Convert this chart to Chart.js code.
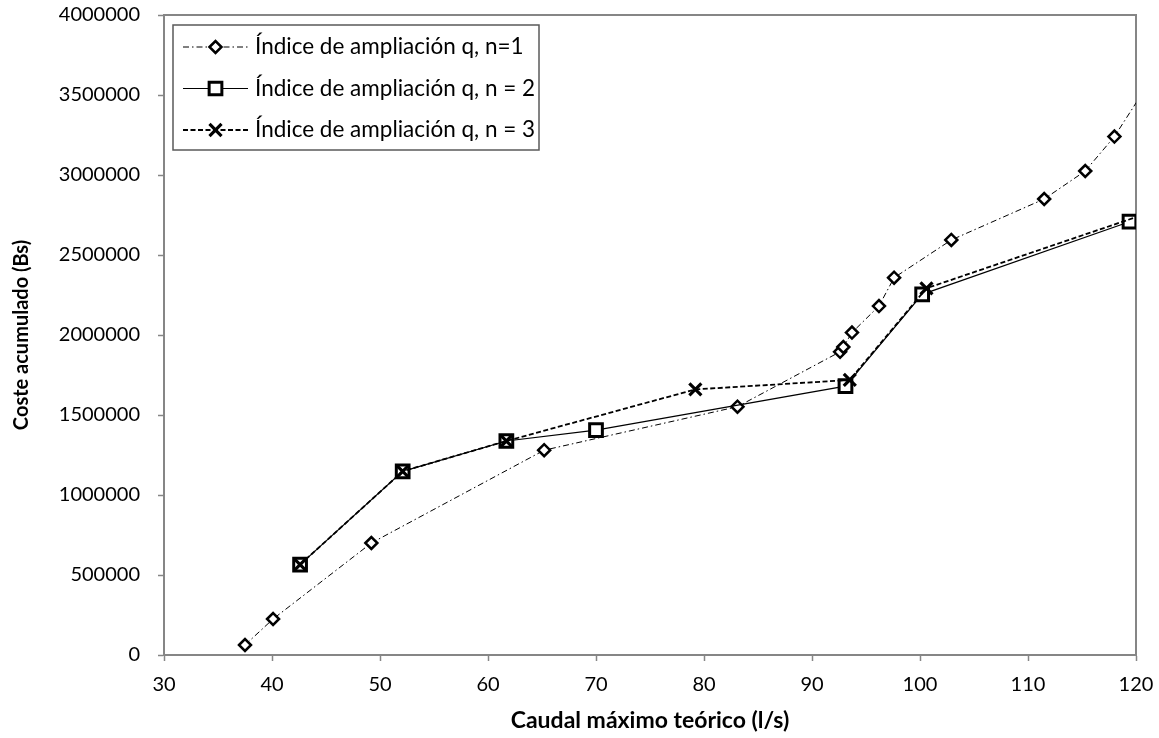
<!DOCTYPE html>
<html lang="es">
<head>
<meta charset="utf-8">
<title>Coste acumulado frente a caudal máximo teórico</title>
<script src="https://cdn.jsdelivr.net/npm/chart.js@4.4.1/dist/chart.umd.min.js"></script>
<style>
  html, body { margin: 0; padding: 0; background: #ffffff; }
  #wrap { width: 1159px; height: 738px; position: relative; }
  canvas { display: block; }
</style>
</head>
<body>
<div id="wrap"><canvas id="grafico" width="1159" height="738"></canvas></div>
<script>
// Caudal máximo teórico (l/s) y coste acumulado (Bs) para cada índice de ampliación
const nombres = ['Índice de ampliación q, n=1', 'Índice de ampliación q, n = 2', 'Índice de ampliación q, n = 3'];

const caudalN1 = [37.5, 40.1, 49.2, 65.2, 83.1, 92.6, 92.9, 93.7, 96.2, 97.6, 102.9, 111.5, 115.3, 118.0, 122.0];
const costeN1  = [62500, 225000, 700000, 1280000, 1552000, 1895000, 1925000, 2015000, 2181000, 2358000, 2594000, 2850000, 3025000, 3240000, 3660000];

const caudalN2 = [42.6, 52.1, 61.7, 70.0, 93.1, 100.2, 119.4];
const costeN2  = [565000, 1148000, 1337500, 1406000, 1680000, 2254000, 2708000];

const caudalN3 = [42.6, 52.1, 61.7, 79.2, 93.5, 100.6, 120.8];
const costeN3  = [565000, 1148000, 1337500, 1660000, 1719000, 2292000, 2755000];

// Ejes
const ejeXMin = 30, ejeXMax = 120, ejeXPaso = 10;
const ejeYMin = 0, ejeYMax = 4000000, ejeYPaso = 500000;
const tituloX = 'Caudal máximo teórico (l/s)';
const tituloY = 'Coste acumulado (Bs)';

const puntos = (xs, ys) => xs.map((x, i) => ({ x: x, y: ys[i] }));

const GRIS = '#868686';
const FUENTE = 'Lato, "Open Sans", sans-serif';

// Marco superior y derecho del área de trazado
const marcoArea = {
  id: 'marcoArea',
  beforeDatasetsDraw(chart) {
    const { ctx, chartArea: a } = chart;
    ctx.save();
    ctx.strokeStyle = GRIS;
    ctx.lineWidth = 2;
    ctx.beginPath();
    ctx.moveTo(a.left, a.top);
    ctx.lineTo(a.right, a.top);
    ctx.lineTo(a.right, a.bottom);
    ctx.stroke();
    ctx.restore();
  }
};

function dibujarMarcador(ctx, ds, x, y) {
  ctx.lineWidth = ds.pointBorderWidth;
  ctx.strokeStyle = ds.pointBorderColor;
  ctx.fillStyle = ds.pointBackgroundColor;
  if (Chart.helpers && Chart.helpers.drawPoint) {
    Chart.helpers.drawPoint(ctx, {
      pointStyle: ds.pointStyle,
      rotation: 0,
      radius: ds.pointRadius,
      borderWidth: ds.pointBorderWidth
    }, x, y);
  }
}

// Leyenda con muestra de línea y marcador
const leyendaSerie = {
  id: 'leyendaSerie',
  afterDatasetsDraw(chart, args, o) {
    const ctx = chart.ctx;
    ctx.save();
    ctx.fillStyle = '#ffffff';
    ctx.fillRect(o.left, o.top, o.width, o.height);
    ctx.strokeStyle = '#5a5a5a';
    ctx.lineWidth = 1.5;
    ctx.strokeRect(o.left, o.top, o.width, o.height);
    chart.data.datasets.forEach((ds, i) => {
      const y = o.top + o.firstRow + i * o.rowGap;
      ctx.save();
      ctx.strokeStyle = ds.borderColor;
      ctx.lineWidth = ds.borderWidth;
      ctx.setLineDash(ds.borderDash || []);
      ctx.beginPath();
      ctx.moveTo(o.left + o.lineStart, y);
      ctx.lineTo(o.left + o.lineEnd, y);
      ctx.stroke();
      ctx.setLineDash([]);
      dibujarMarcador(ctx, ds, o.left + (o.lineStart + o.lineEnd) / 2, y);
      ctx.restore();
      ctx.fillStyle = '#000000';
      ctx.font = o.font;
      ctx.textAlign = 'left';
      ctx.textBaseline = 'middle';
      ctx.fillText(ds.label, o.left + o.textStart, y);
    });
    ctx.restore();
  }
};

new Chart(document.getElementById('grafico'), {
  type: 'line',
  data: {
    datasets: [
      {
        label: nombres[0],
        data: puntos(caudalN1, costeN1),
        borderColor: '#000000',
        borderWidth: 1,
        borderDash: [6, 3, 1.5, 3],
        pointStyle: 'rectRot',
        pointRadius: 6,
        pointBorderWidth: 2.5,
        pointBorderColor: '#000000',
        pointBackgroundColor: '#ffffff',
        clip: 0,
        order: 3
      },
      {
        label: nombres[1],
        data: puntos(caudalN2, costeN2),
        borderColor: '#000000',
        borderWidth: 1.2,
        borderDash: [],
        pointStyle: 'rect',
        pointRadius: 9,
        pointBorderWidth: 3,
        pointBorderColor: '#000000',
        pointBackgroundColor: '#ffffff',
        order: 2
      },
      {
        label: nombres[2],
        data: puntos(caudalN3, costeN3),
        borderColor: '#000000',
        borderWidth: 1.8,
        borderDash: [5, 2.5],
        pointStyle: 'crossRot',
        pointRadius: 8.5,
        pointBorderWidth: 3.2,
        pointBorderColor: '#000000',
        pointBackgroundColor: '#000000',
        clip: 0,
        order: 1
      }
    ]
  },
  options: {
    responsive: false,
    animation: false,
    devicePixelRatio: 1,
    layout: { padding: { left: 0, top: 15, right: 23, bottom: 0 } },
    elements: { line: { tension: 0 } },
    plugins: {
      legend: { display: false },
      tooltip: { enabled: false },
      leyendaSerie: {
        left: 173, top: 25, width: 366, height: 125,
        firstRow: 22, rowGap: 41.5,
        lineStart: 10, lineEnd: 75, textStart: 82,
        font: '22.5px ' + FUENTE
      }
    },
    scales: {
      x: {
        type: 'linear',
        min: ejeXMin, max: ejeXMax,
        afterFit: s => { s.height = 83; s.paddingLeft = 0; s.paddingRight = 0; },
        ticks: {
          stepSize: ejeXPaso,
          padding: 12,
          color: '#000000',
          font: { family: FUENTE, size: 20 },
          callback: v => String(v)
        },
        grid: { drawOnChartArea: false, drawTicks: true, tickLength: 6, tickColor: GRIS, tickWidth: 1.5 },
        border: { color: GRIS, width: 2 },
        title: {
          display: true, text: tituloX, color: '#000000', padding: 4,
          font: { family: FUENTE, size: 23, weight: 'bold' }
        }
      },
      y: {
        type: 'linear',
        min: ejeYMin, max: ejeYMax,
        afterFit: s => { s.width = 164; s.paddingTop = 0; s.paddingBottom = 0; },
        ticks: {
          stepSize: ejeYPaso,
          padding: 18,
          color: '#000000',
          font: { family: FUENTE, size: 20 },
          callback: v => String(v)
        },
        grid: { drawOnChartArea: false, drawTicks: true, tickLength: 6, tickColor: GRIS, tickWidth: 1.5 },
        border: { color: GRIS, width: 2 },
        title: {
          display: true, text: tituloY, color: '#000000', padding: 10,
          font: { family: FUENTE, size: 20, weight: 'bold' }
        }
      }
    }
  },
  plugins: [marcoArea, leyendaSerie]
});
</script>
</body>
</html>
